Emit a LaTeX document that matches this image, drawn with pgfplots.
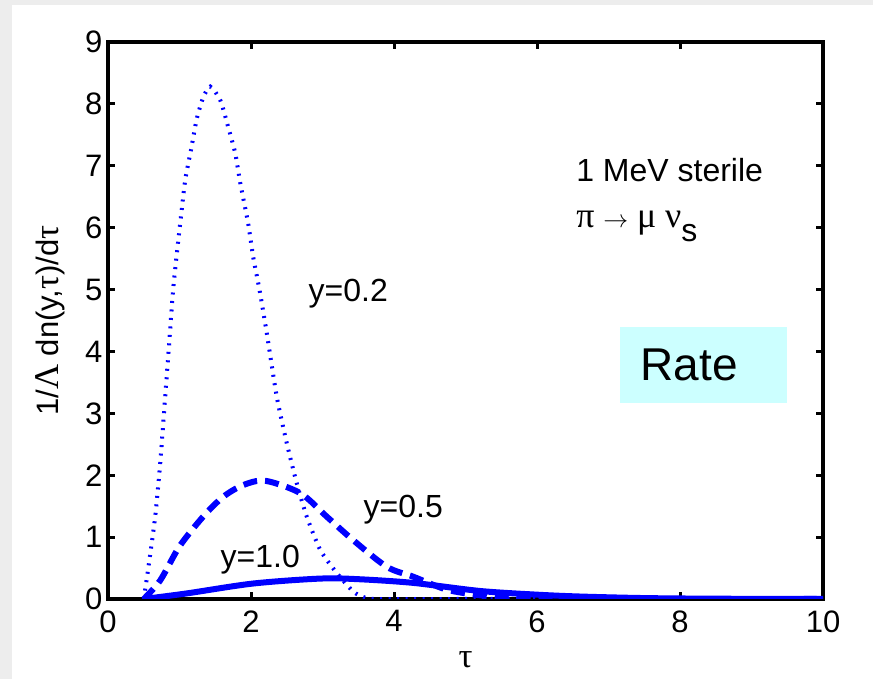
\documentclass[border=0pt]{standalone}
\usepackage{fontspec}
\setmainfont{Liberation Sans}
\newfontfamily\grk[Scale=1.12]{Liberation Serif}
\usepackage{pgfplots}
\pgfplotsset{compat=1.18}
\definecolor{ratebox}{RGB}{204,255,255}
\begin{document}
\begin{tikzpicture}[x=1pt,y=1pt]
\fill[black!7] (0,0) rectangle (873,679);
\fill[white] (12,0) rectangle (873,674);
\useasboundingbox (0,0) rectangle (873,679);
\begin{axis}[at={(108pt,80pt)}, anchor=south west, scale only axis,
  width=715pt, height=557pt,
  xmin=0, xmax=10, ymin=0, ymax=9,
  xtick={0,2,4,6,8,10}, ytick={0,1,2,3,4,5,6,7,8,9},
  axis line style={line width=4.5pt},
  tick style={black, line width=3pt}, major tick length=7pt,
  tick align=inside,
  /pgf/number format/assume math mode=true,
  tick label style={font=\fontsize{31}{36}\selectfont},
  xticklabel style={yshift=-8pt},
  yticklabel style={xshift=-2pt},
  label style={font=\fontsize{31}{36}\selectfont},
  xlabel={\grk τ},
  ylabel={1/{\grk Λ} dn(y,{\grk τ})/d{\grk τ}},
  xlabel style={at={(axis description cs:0.5,-0.1095)}, anchor=center},
  ylabel style={at={(axis description cs:-0.0811,0.5)}, anchor=center},
]
% y = 0.2 (dotted)
\addplot[blue, line width=4pt, dash pattern=on 2pt off 6.5pt, smooth, tension=0.4] coordinates {
(0.50,0.00) (0.56,0.47) (0.66,1.33) (0.73,2.19) (0.80,3.27) (0.86,4.20)
(0.91,4.99) (0.96,5.55) (1.01,6.07) (1.08,6.77) (1.16,7.25) (1.24,7.75)
(1.33,8.10) (1.43,8.28) (1.57,8.06) (1.68,7.63) (1.78,7.20) (1.85,6.72)
(1.96,6.07) (2.03,5.53) (2.12,4.99) (2.22,4.30) (2.36,3.27) (2.50,2.52)
(2.64,1.87) (2.78,1.33) (2.97,0.79) (3.20,0.42) (3.43,0.12) (3.60,0.02)
(3.80,0.00) (5.00,0.00) (10.00,0.00)};
% y = 0.5 (dashed)
\addplot[blue, line width=6pt, dash pattern=on 14pt off 8pt, smooth, tension=0.5] coordinates {
(0.50,0.00) (0.73,0.30) (1.00,0.85) (1.33,1.33) (1.61,1.65) (1.89,1.84)
(2.20,1.91) (2.69,1.71) (3.06,1.33) (3.43,0.95) (3.90,0.52) (4.27,0.36)
(4.74,0.15) (5.20,0.06) (5.60,0.02) (6.00,0.005) (7.00,0.00) (10.00,0.00)};
% y = 1.0 (solid)
\addplot[blue, line width=6pt, smooth, tension=0.5] coordinates {
(0.50,0.00) (1.10,0.09) (2.03,0.25) (2.97,0.33) (3.50,0.32) (4.27,0.26)
(5.20,0.13) (6.00,0.07) (6.60,0.04) (7.50,0.015) (8.50,0.005) (10.00,0.00)};
\fill[ratebox] (axis cs:7.16,3.17) rectangle (axis cs:9.50,4.39);
\node[anchor=west, font=\fontsize{46}{50}\selectfont] at (axis cs:7.40,3.78) {Rate};
\node[anchor=west, font=\fontsize{32}{36}\selectfont] at (axis cs:6.50,6.93) {1 MeV sterile};
\node[anchor=west, font=\fontsize{32}{36}\selectfont] at (axis cs:6.50,6.02) {{\grk π} $\rightarrow$ {\grk μ} {\grk ν}\raisebox{-14pt}{s}};
\node[font=\fontsize{32}{36}\selectfont] at (axis cs:3.36,4.94) {y=0.2};
\node[font=\fontsize{32}{36}\selectfont] at (axis cs:4.13,1.44) {y=0.5};
\node[font=\fontsize{32}{36}\selectfont] at (axis cs:2.13,0.63) {y=1.0};
\end{axis}
\end{tikzpicture}
\end{document}
